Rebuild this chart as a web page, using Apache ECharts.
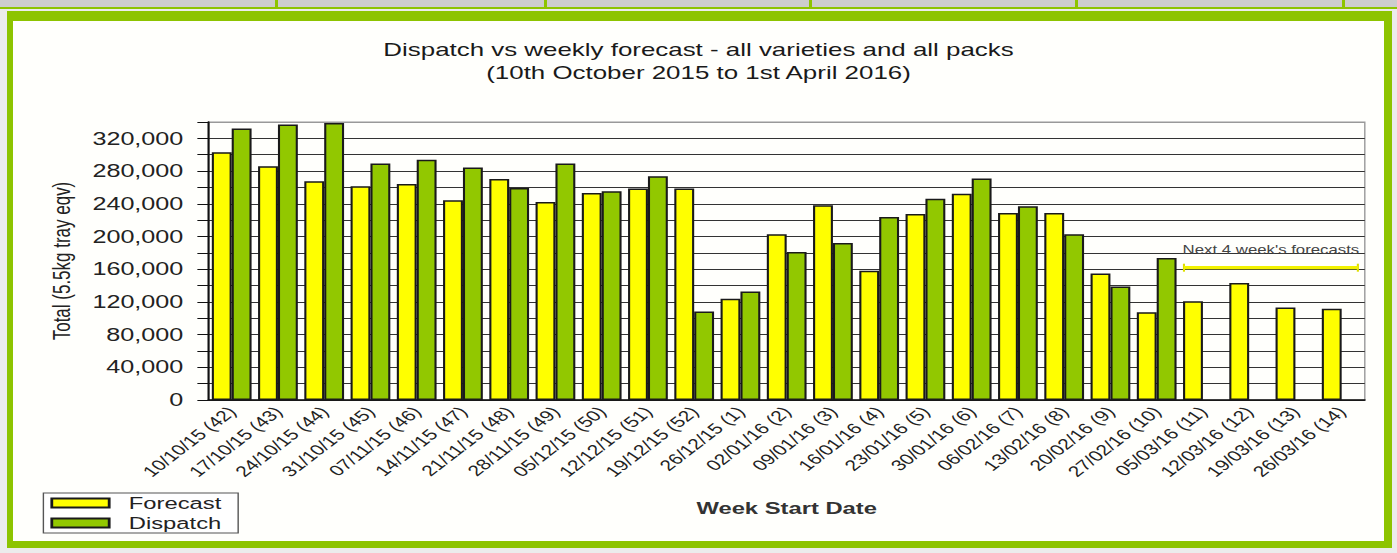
<!DOCTYPE html>
<html>
<head>
<meta charset="utf-8">
<script src="https://cdn.jsdelivr.net/npm/echarts@6/dist/echarts.min.js"></script>
<style>
  html, body { margin: 0; width: 1397px; height: 553px; overflow: hidden; background: #ececec; }
  #tabs { position: absolute; left: 0; top: 0; width: 1397px; height: 7px; background: #cdcdcd; border-bottom: 2px solid #8dc400; }
  #tabs span { position: absolute; top: 0; width: 3px; height: 7px; background: #8dc400; }
  #frame { position: absolute; left: 7px; top: 11px; width: 1371px; height: 520px;
           border: solid #8dc400; border-width: 10px 8px 7px 6px; background: #fffffc; }
  /* the source picture is stretched sideways, so the chart is drawn narrow and scaled */
  #chart { position: absolute; left: 0; top: 0; width: 998px; height: 553px;
           transform: scaleX(1.3998); transform-origin: 0 0; }
</style>
</head>
<body>
<div id="tabs"><span style="left:275px"></span><span style="left:544px"></span><span style="left:809px"></span><span style="left:1075px"></span><span style="left:1342px"></span></div>
<div id="frame"></div>
<div id="chart"></div>
<script>
const categories = [
  '10/10/15 (42)', '17/10/15 (43)', '24/10/15 (44)', '31/10/15 (45)', '07/11/15 (46)',
  '14/11/15 (47)', '21/11/15 (48)', '28/11/15 (49)', '05/12/15 (50)', '12/12/15 (51)',
  '19/12/15 (52)', '26/12/15 (1)', '02/01/16 (2)', '09/01/16 (3)', '16/01/16 (4)',
  '23/01/16 (5)', '30/01/16 (6)', '06/02/16 (7)', '13/02/16 (8)', '20/02/16 (9)',
  '27/02/16 (10)', '05/03/16 (11)', '12/03/16 (12)', '19/03/16 (13)', '26/03/16 (14)',
]
const forecast = [
  303000, 285900, 267600, 261400, 264300, 244300, 270400, 242200, 253300, 258600,
  258600, 123800, 202600, 238100, 158100, 227600, 252100, 228800, 228800, 154800,
  107400, 120900, 143000, 113100, 111500,
]
const dispatch = [
  332100, 337000, 338700, 289200, 293700, 284300, 259400, 289200, 255300, 273700,
  108200, 132700, 181000, 192000, 223900, 246000, 270800, 236900, 202600, 138900,
  173600, null, null, null, null,
]
// bracket over the last four weeks (x in category units)
const noteText = "Next 4 week's forecasts"
const noteX = [21.09, 24.85]
const noteY = 161800

const FONT = 'Liberation Sans'
const yMax = 340000
const yStep = 20000
const gridColors = Array.from({ length: yMax / yStep + 1 }, (_, i) => i === yMax / yStep ? '#999' : '#333')

const chart = echarts.init(document.getElementById('chart'), null, { renderer: 'svg' })

chart.setOption({
  animation: false,
  textStyle: { fontFamily: FONT },
  title: {
    text: 'Dispatch vs weekly forecast - all varieties and all packs\n(10th October 2015 to 1st April 2016)',
    left: 'center',
    top: 33,
    textStyle: { fontSize: 18.5, fontWeight: 'normal', color: '#1a1a1a', lineHeight: 23, fontFamily: FONT },
  },
  legend: {
    data: ['Forecast', 'Dispatch'],
    orient: 'vertical',
    left: 31,
    top: 493,
    icon: 'rect',
    itemWidth: 41,
    itemHeight: 9,
    itemGap: 2,
    padding: [1, 12, 1, 5],
    borderColor: '#555',
    borderWidth: 1,
    backgroundColor: '#fff',
    textStyle: { fontSize: 17, color: '#222', lineHeight: 18, padding: [0, 0, 0, 9], fontFamily: FONT },
  },
  grid: {
    left: 149, right: 23, top: 122, bottom: 153,
    show: true, borderColor: '#999', borderWidth: 1,
  },
  xAxis: [{
    type: 'category',
    data: categories,
    axisLine: { lineStyle: { color: '#111', width: 1.5 } },
    axisTick: { length: 10, lineStyle: { color: '#111' } },
    axisLabel: { interval: 0, rotate: 47, fontSize: 15, color: '#222', margin: 9, fontFamily: FONT },
    name: 'Week Start Date',
    nameLocation: 'middle',
    nameGap: 99,
    nameTextStyle: { fontSize: 17, fontWeight: 'bold', color: '#333', fontFamily: FONT },
  }, {
    type: 'value', min: 0, max: categories.length, show: false,
  }],
  yAxis: {
    type: 'value',
    min: 0,
    max: yMax,
    interval: yStep,
    axisLine: { show: true, lineStyle: { color: '#111', width: 1.5 } },
    axisTick: { show: true, length: 8, lineStyle: { color: '#111' } },
    axisLabel: {
      formatter: v => v % 40000 === 0 ? v.toLocaleString('en-US') : '',
      fontSize: 18, color: '#222', margin: 18, fontFamily: FONT,
    },
    splitLine: { lineStyle: { color: gridColors, width: 1.2 } },
    name: 'Total (5.5kg tray eqv)',
    nameLocation: 'middle',
    nameGap: 97,
    nameTextStyle: { fontSize: 17, color: '#222', fontFamily: FONT },
  },
  series: [{
    name: 'Forecast',
    type: 'bar',
    data: forecast,
    barGap: '0%',
    barCategoryGap: '14%',
    itemStyle: { color: '#ffff00', borderColor: '#1a1a1a', borderWidth: 1.5 },
  }, {
    name: 'Dispatch',
    type: 'bar',
    data: dispatch,
    itemStyle: { color: '#92c800', borderColor: '#1a1a1a', borderWidth: 1.5 },
  }, {
    type: 'line',
    xAxisIndex: 1,
    silent: true,
    data: noteX.map(x => [x, noteY]),
    symbol: 'rect',
    symbolSize: [1.5, 8],
    itemStyle: { color: '#dede00' },
    lineStyle: { color: '#f2f200', width: 3 },
    markLine: {
      silent: true,
      symbol: 'none',
      lineStyle: { color: '#f2f200', width: 3, type: 'solid' },
      label: { position: 'middle', formatter: noteText, color: '#444', fontSize: 12, distance: 12, fontFamily: FONT },
      data: [[{ coord: [noteX[0], noteY] }, { coord: [noteX[1], noteY] }]],
    },
  }],
})
</script>
</body>
</html>
